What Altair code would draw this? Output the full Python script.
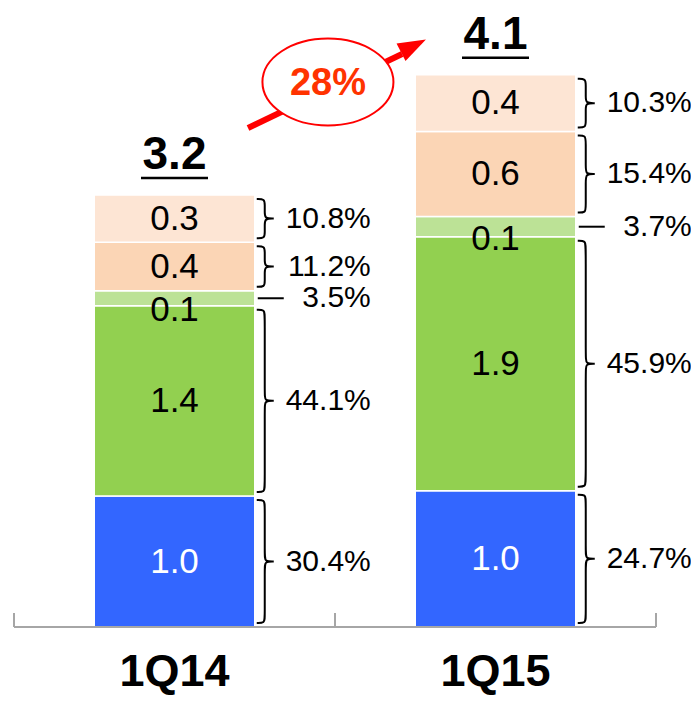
import altair as alt
import pandas as pd
import numpy as np

# ---------------- data ----------------
categories = ["1Q14", "1Q15"]
segments = ["Segment 1", "Segment 2", "Segment 3", "Segment 4", "Segment 5"]
values_1q14 = [0.97, 1.41, 0.11, 0.36, 0.35]
values_1q15 = [1.01, 1.88, 0.15, 0.63, 0.42]
value_labels_1q14 = ["1.0", "1.4", "0.1", "0.4", "0.3"]
value_labels_1q15 = ["1.0", "1.9", "0.1", "0.6", "0.4"]
share_labels_1q14 = ["30.4%", "44.1%", "3.5%", "11.2%", "10.8%"]
share_labels_1q15 = ["24.7%", "45.9%", "3.7%", "15.4%", "10.3%"]
total_labels = ["3.2", "4.1"]
growth_label = "28%"

# ---------------- styles ----------------
seg_colors = ["#3366FF", "#92D050", "#BCE296", "#FBD5B5", "#FDE5D4"]
label_colors = ["#FFFFFF", "#000000", "#000000", "#000000", "#000000"]
FONT = "Liberation Sans"

W, H = 642, 619
YMAX = 4.585
PX_X = 2.0 / W
PX_Y = YMAX / H
BAR_HALF = 0.25

values = [values_1q14, values_1q15]
vlabels = [value_labels_1q14, value_labels_1q15]
slabels = [share_labels_1q14, share_labels_1q15]

rows, brace_rows, dash_rows, tot_rows = [], [], [], []
for ci, cat in enumerate(categories):
    vals = np.array(values[ci])
    cum = np.cumsum(vals)
    xc = ci + 0.5
    xr = xc + BAR_HALF
    for si, seg in enumerate(segments):
        y0, y1 = cum[si] - vals[si], cum[si]
        rows.append(dict(cat=cat, seg=seg, order=si, value=vals[si], y0=y0, y1=y1,
                         ymid=(y0 + y1) / 2, xl=xc - BAR_HALF, xr=xr, xc=xc,
                         label=vlabels[ci][si], share=slabels[ci][si],
                         lcolor=label_colors[si], xs=xr + 116 * PX_X))
        if si == 2:
            m = (y0 + y1) / 2
            dash_rows.append(dict(x=xr + 3 * PX_X, x2=xr + 29 * PX_X, y=m))
        else:
            g = 4 * PX_Y
            t, b, m = y1 - g, y0 + g, (y0 + y1) / 2
            X0, X1, X2 = xr + 2 * PX_X, xr + 10 * PX_X, xr + 19 * PX_X
            r = 6 * PX_Y
            pts = [(X0, t), (X1, t), (X1, t - r), (X1, m + r), (X1, m), (X2, m), (X2, m),
                   (X2, m), (X1, m), (X1, m - r), (X1, b + r), (X1, b), (X0, b)]
            for k, (px, py) in enumerate(pts):
                brace_rows.append(dict(bid=f"{cat}-{si}", k=k, x=px, y=py))
    tot_rows.append(dict(cat=cat, xc=xc, total=cum[-1], label=total_labels[ci],
                         ul0=xc - 33.5 * PX_X, ul1=xc + 33.5 * PX_X, zero=0.0))

df = pd.DataFrame(rows)
braces = pd.DataFrame(brace_rows)
dashes = pd.DataFrame(dash_rows)
totals = pd.DataFrame(tot_rows)

xs = alt.Scale(domain=[0, 2], nice=False, zero=False)
ys = alt.Scale(domain=[0, YMAX], nice=False, zero=False)

def X(f):
    return alt.X(f, type="quantitative", scale=xs, axis=None)

def Y(f):
    return alt.Y(f, type="quantitative", scale=ys, axis=None)

base = alt.Chart(df)

bars = base.mark_bar(stroke="white", strokeWidth=1.5).encode(
    x=X("xl"), x2="xr", y=Y("y0"), y2="y1",
    color=alt.Color("seg:N", scale=alt.Scale(domain=segments, range=seg_colors), legend=None),
)

vals_main = base.transform_filter("datum.order != 2").mark_text(
    font=FONT, fontSize=35, baseline="middle", align="center"
).encode(x=X("xc"), y=Y("ymid"), text="label:N", color=alt.Color("lcolor:N", scale=None))

vals_small = base.transform_filter("datum.order == 2").mark_text(
    font=FONT, fontSize=35, baseline="middle", align="center", dy=12
).encode(x=X("xc"), y=Y("ymid"), text="label:N", color=alt.Color("lcolor:N", scale=None))

shares = base.mark_text(font=FONT, fontSize=30, baseline="middle", align="right", color="black").encode(
    x=X("xs"), y=Y("ymid"), text="share:N"
)

brace_lines = alt.Chart(braces).mark_line(interpolate="basis", color="black", strokeWidth=2).encode(
    x=X("x"), y=Y("y"), detail="bid:N", order="k:Q"
)

dash_lines = alt.Chart(dashes).mark_rule(color="black", strokeWidth=2).encode(
    x=X("x"), x2="x2", y=Y("y")
)

tot_text = alt.Chart(totals).mark_text(
    font=FONT, fontSize=46, fontWeight="bold", baseline="alphabetic", align="center", dy=-26, color="black"
).encode(x=X("xc"), y=Y("total"), text="label:N")

tot_ul = alt.Chart(totals).mark_rule(color="black", strokeWidth=2.5, yOffset=-17).encode(
    x=X("ul0"), x2="ul1", y=Y("total")
)

cat_text = alt.Chart(totals).mark_text(
    font=FONT, fontSize=45, fontWeight="bold", baseline="alphabetic", align="center", dy=59, color="black"
).encode(x=X("xc"), y=Y("zero"), text="cat:N")

axis_df = pd.DataFrame({"x": [0.0], "x2": [2.0], "y": [0.0]})
axis_line = alt.Chart(axis_df).mark_rule(color="#A6A6A6", strokeWidth=2).encode(
    x=X("x"), x2="x2", y=Y("y")
)
ticks_df = pd.DataFrame({"x": [0.0, 1.0, 2.0], "y": [0.0] * 3, "y2": [14 * PX_Y] * 3})
ticks = alt.Chart(ticks_df).mark_rule(color="#A6A6A6", strokeWidth=2).encode(
    x=X("x"), y=Y("y"), y2="y2"
)

# growth annotation (arrow + ellipse)
shaft_df = pd.DataFrame({"x": [0.729], "x2": [1.209], "y": [3.696], "y2": [4.244]})
shaft = alt.Chart(shaft_df).mark_rule(color="#FF0000", strokeWidth=6).encode(
    x=X("x"), x2="x2", y=Y("y"), y2="y2"
)
head_df = pd.DataFrame({"x": [1.2445], "y": [4.305]})
head = alt.Chart(head_df).mark_point(
    shape="M0,-1 L0.7,1 L-0.7,1 Z", size=784, angle=62.8, filled=True, color="#FF0000", opacity=1
).encode(x=X("x"), y=Y("y"))

ELLIPSE = ("M1,0 C1,0.367 0.552,0.664 0,0.664 C-0.552,0.664 -1,0.367 -1,0 "
           "C-1,-0.367 -0.552,-0.664 0,-0.664 C0.552,-0.664 1,-0.367 1,0 Z")
ell_df = pd.DataFrame({"x": [0.978], "y": [4.037], "ty": [4.019], "label": [growth_label]})
ellipse = alt.Chart(ell_df).mark_point(
    shape=ELLIPSE, size=131 ** 2, filled=False, fill="white", fillOpacity=1,
    stroke="#FF0000", strokeWidth=2, opacity=1
).encode(x=X("x"), y=Y("y"))
growth = alt.Chart(ell_df).mark_text(
    font=FONT, fontSize=38, fontWeight="bold", color="#FF3300", baseline="middle", align="center"
).encode(x=X("x"), y=Y("ty"), text="label:N")

chart = alt.layer(
    bars, vals_main, vals_small, brace_lines, dash_lines, shares,
    tot_text, tot_ul, cat_text, axis_line, ticks, shaft, ellipse, growth, head
).properties(
    width=W, height=H,
    autosize=alt.AutoSizeParams(type="none"),
    padding={"left": 6, "top": 0, "right": 35, "bottom": 68},
).configure_view(stroke=None)

chart.save("out.html", embed_options={"renderer": "svg", "actions": False})
